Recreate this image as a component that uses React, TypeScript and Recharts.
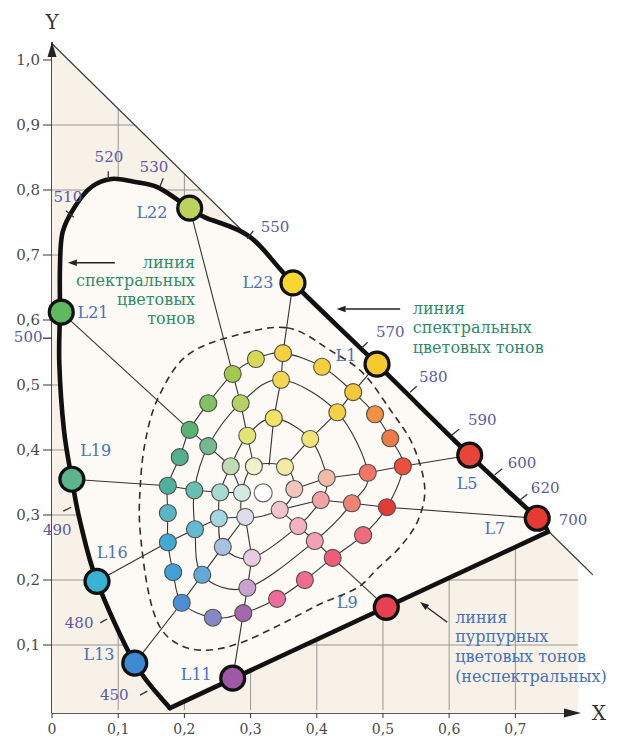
import React from 'react';
import { ComposedChart, Scatter, XAxis, YAxis, ReferenceLine, ReferenceDot } from 'recharts';

// ---------- axes ----------
const X_MAX = 0.7946;
const Y_MIN = -0.0046;
const Y_MAX = 1.0277;
const xTicks = [0, 0.1, 0.2, 0.3, 0.4, 0.5, 0.6, 0.7];
const yTicks = [0.1, 0.2, 0.3, 0.4, 0.5, 0.6, 0.7, 0.8, 0.9, 1.0];

// ---------- background ----------
const triangleRegion = [
  { x: 0, y: Y_MIN }, { x: 0, y: 1.025 }, { x: X_MAX, y: 0.2304 }, { x: X_MAX, y: Y_MIN },
];
const gridSegments = [
  { x: 0.1, y: 0 }, { x: 0.1, y: 0.925 },
  { x: 0.2, y: 0 }, { x: 0.2, y: 0.825 },
  { x: 0.3, y: 0 }, { x: 0.3, y: 0.725 },
  { x: 0.4, y: 0 }, { x: 0.4, y: 0.625 },
  { x: 0.5, y: 0 }, { x: 0.5, y: 0.525 },
  { x: 0.6, y: 0 }, { x: 0.6, y: 0.425 },
  { x: 0.7, y: 0 }, { x: 0.7, y: 0.325 },
  { x: 0, y: 0.1 }, { x: X_MAX, y: 0.1 },
  { x: 0, y: 0.2 }, { x: X_MAX, y: 0.2 },
  { x: 0, y: 0.3 }, { x: 0.725, y: 0.3 },
  { x: 0, y: 0.4 }, { x: 0.625, y: 0.4 },
  { x: 0, y: 0.5 }, { x: 0.525, y: 0.5 },
  { x: 0, y: 0.6 }, { x: 0.425, y: 0.6 },
  { x: 0, y: 0.7 }, { x: 0.325, y: 0.7 },
  { x: 0, y: 0.8 }, { x: 0.225, y: 0.8 },
  { x: 0, y: 0.9 }, { x: 0.125, y: 0.9 },
];
const diagonalInside = [{ x: 0, y: 1.025 }, { x: X_MAX, y: 0.2304 }];

// ---------- spectral locus & purple line ----------
const spectralLocus = [
  { x: 0.178, y: 0.003 }, { x: 0.125, y: 0.072 }, { x: 0.068, y: 0.198 }, { x: 0.042, y: 0.292 },
  { x: 0.030, y: 0.355 }, { x: 0.018, y: 0.431 }, { x: 0.011, y: 0.534 }, { x: 0.012, y: 0.612 },
  { x: 0.012, y: 0.680 }, { x: 0.016, y: 0.735 }, { x: 0.035, y: 0.775 }, { x: 0.060, y: 0.805 },
  { x: 0.090, y: 0.817 }, { x: 0.122, y: 0.813 }, { x: 0.160, y: 0.804 }, { x: 0.208, y: 0.772 },
  { x: 0.231, y: 0.758 }, { x: 0.299, y: 0.728 }, { x: 0.364, y: 0.657 }, { x: 0.491, y: 0.532 },
  { x: 0.631, y: 0.392 }, { x: 0.733, y: 0.295 }, { x: 0.749, y: 0.274 },
];
const purpleLine = [{ x: 0.178, y: 0.003 }, { x: 0.749, y: 0.274 }];

const wavelengthTicks = [
  { x: 0.085, y: 0.815 }, { x: 0.085, y: 0.829 },
  { x: 0.163, y: 0.805 }, { x: 0.168, y: 0.818 },
  { x: 0.021, y: 0.768 }, { x: 0.033, y: 0.758 },
  { x: 0.295, y: 0.725 }, { x: 0.304, y: 0.737 },
  { x: 0.468, y: 0.557 }, { x: 0.477, y: 0.566 },
  { x: 0.541, y: 0.489 }, { x: 0.551, y: 0.498 },
  { x: 0.604, y: 0.423 }, { x: 0.615, y: 0.432 },
  { x: 0.669, y: 0.362 }, { x: 0.680, y: 0.371 },
  { x: 0.707, y: 0.323 }, { x: 0.718, y: 0.332 },
  { x: 0.017, y: 0.306 }, { x: 0.029, y: 0.312 },
  { x: 0.073, y: 0.134 }, { x: 0.083, y: 0.140 },
  { x: 0.133, y: 0.023 }, { x: 0.144, y: 0.029 },
];

// ---------- dashed contour ----------
const dashedContour = [
  { x: 0.355, y: 0.588 }, { x: 0.424, y: 0.551 }, { x: 0.470, y: 0.518 }, { x: 0.511, y: 0.462 },
  { x: 0.545, y: 0.408 }, { x: 0.563, y: 0.343 }, { x: 0.553, y: 0.292 }, { x: 0.526, y: 0.251 },
  { x: 0.492, y: 0.218 }, { x: 0.461, y: 0.188 }, { x: 0.405, y: 0.163 }, { x: 0.344, y: 0.131 },
  { x: 0.284, y: 0.103 }, { x: 0.234, y: 0.092 }, { x: 0.193, y: 0.100 }, { x: 0.163, y: 0.128 },
  { x: 0.145, y: 0.185 }, { x: 0.133, y: 0.277 }, { x: 0.133, y: 0.338 }, { x: 0.140, y: 0.408 },
  { x: 0.159, y: 0.477 }, { x: 0.201, y: 0.543 }, { x: 0.269, y: 0.574 },
];

// ---------- colour samples (rings) ----------
const ringA = [
  { x: 0.349, y: 0.549, c: '#f4d03f' }, { x: 0.408, y: 0.528, c: '#f4cf3c' }, { x: 0.455, y: 0.489, c: '#f3c83a' },
  { x: 0.488, y: 0.455, c: '#f29142' }, { x: 0.511, y: 0.418, c: '#f07a45' }, { x: 0.530, y: 0.375, c: '#ee4c3c' },
  { x: 0.506, y: 0.312, c: '#e53a3a' }, { x: 0.470, y: 0.269, c: '#ef6b7b' }, { x: 0.424, y: 0.234, c: '#ef5b78' },
  { x: 0.382, y: 0.200, c: '#ef6a8c' }, { x: 0.340, y: 0.171, c: '#ec6c9c' }, { x: 0.289, y: 0.149, c: '#a667ad' },
  { x: 0.243, y: 0.142, c: '#8587c9' }, { x: 0.196, y: 0.165, c: '#4b8fd6' }, { x: 0.183, y: 0.212, c: '#41a0d8' },
  { x: 0.175, y: 0.258, c: '#41aad2' }, { x: 0.175, y: 0.303, c: '#5ab6c4' }, { x: 0.175, y: 0.345, c: '#4fb19c' },
  { x: 0.193, y: 0.389, c: '#52b08e' }, { x: 0.208, y: 0.431, c: '#5bb273' }, { x: 0.236, y: 0.472, c: '#82c164' },
  { x: 0.273, y: 0.517, c: '#a3c84e' }, { x: 0.308, y: 0.540, c: '#d8d857' },
];
const ringB = [
  { x: 0.346, y: 0.508, c: '#f2d852' }, { x: 0.431, y: 0.458, c: '#f2d146' }, { x: 0.477, y: 0.365, c: '#f07565' },
  { x: 0.453, y: 0.318, c: '#f08474' }, { x: 0.397, y: 0.260, c: '#f1a0b6' }, { x: 0.295, y: 0.188, c: '#c9a2d2' },
  { x: 0.227, y: 0.208, c: '#62a8d9' }, { x: 0.216, y: 0.278, c: '#62bbd2' }, { x: 0.215, y: 0.338, c: '#66c0b2' },
  { x: 0.236, y: 0.406, c: '#73ba93' }, { x: 0.285, y: 0.472, c: '#b4d263' },
];
const ringC = [
  { x: 0.335, y: 0.449, c: '#f2e265' }, { x: 0.390, y: 0.417, c: '#f2e376' }, { x: 0.415, y: 0.357, c: '#f2bba6' },
  { x: 0.406, y: 0.323, c: '#f2a4a4' }, { x: 0.372, y: 0.283, c: '#f2b2c2' }, { x: 0.302, y: 0.234, c: '#e8cbe2' },
  { x: 0.258, y: 0.251, c: '#a6c2e3' }, { x: 0.252, y: 0.295, c: '#a3d8e2' }, { x: 0.254, y: 0.335, c: '#a4dad2' },
  { x: 0.270, y: 0.375, c: '#bddbb4' }, { x: 0.295, y: 0.422, c: '#e2e576' },
];
const ringD = [
  { x: 0.352, y: 0.374, c: '#f2eaa4' }, { x: 0.366, y: 0.340, c: '#f3c6bc' }, { x: 0.344, y: 0.308, c: '#f2c4cc' },
  { x: 0.292, y: 0.297, c: '#dcdcea' }, { x: 0.287, y: 0.334, c: '#d3eae2' }, { x: 0.305, y: 0.375, c: '#f1f1cb' },
];
const whitePoint = [{ x: 0.319, y: 0.334, c: '#ffffff' }];

// ---------- L points on the boundary ----------
const lCircles = [
  { name: 'L22', x: 0.208, y: 0.772, c: '#bdd25c' },
  { name: 'L23', x: 0.364, y: 0.657, c: '#f6d631' },
  { name: 'L1', x: 0.491, y: 0.532, c: '#f6c92c' },
  { name: 'L5', x: 0.631, y: 0.392, c: '#e8453a' },
  { name: 'L7', x: 0.733, y: 0.295, c: '#e63b30' },
  { name: 'L9', x: 0.505, y: 0.158, c: '#e5414f' },
  { name: 'L11', x: 0.273, y: 0.049, c: '#9e58a6' },
  { name: 'L13', x: 0.125, y: 0.072, c: '#3c8ad2' },
  { name: 'L16', x: 0.068, y: 0.198, c: '#39b3d3' },
  { name: 'L19', x: 0.030, y: 0.355, c: '#5bb48c' },
  { name: 'L21', x: 0.014, y: 0.612, c: '#5fba5f' },
];

const spokeSpec = [
  { l: 'L21', a: 19, b: 9, c: 9, d: 4 },
  { l: 'L22', a: 21, b: 10, c: 10, d: 5 },
  { l: 'L23', a: 0, b: 0, c: 0, end: { x: 0.328, y: 0.377 } },
  { l: 'L1', a: 2, b: 1, c: 1, d: 0 },
  { l: 'L5', a: 5, b: 2, c: 2, d: 1 },
  { l: 'L7', a: 6, b: 3, c: 3, d: 2 },
  { l: 'L9', a: 8, b: 4, c: 4, d: 2 },
  { l: 'L11', a: 11, b: 5, c: 5, d: 3 },
  { l: 'L13', a: 13, b: 6, c: 6, d: 3 },
  { l: 'L16', a: 15, b: 7, c: 7, d: 3 },
  { l: 'L19', a: 17, b: 8, c: 8, d: 4 },
];

// ---------- texts ----------
const wavelengthLabels = [
  { x: 0.086, y: 0.851, t: '520' }, { x: 0.154, y: 0.835, t: '530' }, { x: 0.024, y: 0.789, t: '510' },
  { x: 0.337, y: 0.743, t: '550' }, { x: 0.511, y: 0.582, t: '570' }, { x: 0.576, y: 0.512, t: '580' },
  { x: 0.650, y: 0.446, t: '590' }, { x: 0.710, y: 0.380, t: '600' }, { x: 0.745, y: 0.342, t: '620' },
  { x: 0.787, y: 0.292, t: '700' }, { x: 0.008, y: 0.277, t: '490' }, { x: 0.041, y: 0.134, t: '480' },
  { x: 0.094, y: 0.023, t: '450' },
];
const lLabels = [
  { x: 0.151, y: 0.765, t: 'L22' }, { x: 0.311, y: 0.657, t: 'L23' }, { x: 0.062, y: 0.611, t: 'L21' },
  { x: 0.444, y: 0.546, t: 'L1' }, { x: 0.627, y: 0.349, t: 'L5' }, { x: 0.669, y: 0.280, t: 'L7' },
  { x: 0.446, y: 0.165, t: 'L9' }, { x: 0.218, y: 0.054, t: 'L11' }, { x: 0.071, y: 0.085, t: 'L13' },
  { x: 0.091, y: 0.243, t: 'L16' }, { x: 0.066, y: 0.400, t: 'L19' },
];
const noteLeft = [
  { x: 0.216, y: 0.689, t: 'линия' }, { x: 0.216, y: 0.661, t: 'спектральных' },
  { x: 0.216, y: 0.632, t: 'цветовых' }, { x: 0.216, y: 0.603, t: 'тонов' },
];
const noteRight = [
  { x: 0.545, y: 0.618, t: 'линия' }, { x: 0.545, y: 0.588, t: 'спектральных' },
  { x: 0.545, y: 0.557, t: 'цветовых тонов' },
];
const notePurple = [
  { x: 0.609, y: 0.143, t: 'линия' }, { x: 0.609, y: 0.113, t: 'пурпурных' },
  { x: 0.609, y: 0.082, t: 'цветовых тонов' }, { x: 0.609, y: 0.051, t: '(неспектральных)' },
];
const arrowLeft = [{ x: 0.095, y: 0.688 }, { x: 0.024, y: 0.688 }];
const arrowRight = [{ x: 0.526, y: 0.617 }, { x: 0.430, y: 0.617 }];
const arrowPurple = [{ x: 0.597, y: 0.135 }, { x: 0.556, y: 0.166 }];
const yArrowTip = [{ x: 0, y: Y_MAX }];
const xArrowTip = [{ x: X_MAX, y: Y_MIN }];

// ---------- drawing helpers ----------
type P = { x: number; y: number };
const FONT = "'DejaVu Serif', 'Liberation Serif', serif";

function catmullRom(pts: P[], closed: boolean): string {
  const n = pts.length;
  if (n < 2) return '';
  const g = (i: number) => (closed ? pts[((i % n) + n) % n] : pts[Math.max(0, Math.min(n - 1, i))]);
  let d = `M${pts[0].x},${pts[0].y}`;
  const segs = closed ? n : n - 1;
  for (let i = 0; i < segs; i++) {
    const p0 = g(i - 1), p1 = g(i), p2 = g(i + 1), p3 = g(i + 2);
    const c1x = p1.x + (p2.x - p0.x) / 6, c1y = p1.y + (p2.y - p0.y) / 6;
    const c2x = p2.x - (p3.x - p1.x) / 6, c2y = p2.y - (p3.y - p1.y) / 6;
    d += ` C${c1x},${c1y} ${c2x},${c2y} ${p2.x},${p2.y}`;
  }
  if (closed) d += ' Z';
  return d;
}

const spline = (o: any) => (props: any) => {
  const pts = (props.points || []) as P[];
  return (
    <path d={catmullRom(pts, !!o.closed) + (o.closeStraight ? ' Z' : '')} fill={o.fill || 'none'}
      stroke={o.stroke || 'none'} strokeWidth={o.width || 1} strokeDasharray={o.dash}
      strokeLinejoin="round" strokeLinecap={o.cap || 'round'} />
  );
};
const polygon = (o: any) => (props: any) => {
  const pts = (props.points || []) as P[];
  const d = pts.map((p, i) => `${i ? 'L' : 'M'}${p.x},${p.y}`).join(' ') + (o.close ? ' Z' : '');
  return <path d={d} fill={o.fill || 'none'} stroke={o.stroke || 'none'} strokeWidth={o.width || 1} strokeLinecap="round" strokeLinejoin="round" />;
};
const segments = (o: any) => (props: any) => {
  const pts = (props.points || []) as P[];
  let d = '';
  for (let i = 0; i + 1 < pts.length; i += 2) d += `M${pts[i].x},${pts[i].y} L${pts[i + 1].x},${pts[i + 1].y} `;
  return <path d={d} fill="none" stroke={o.stroke} strokeWidth={o.width} />;
};
const arrow = (o: any) => (props: any) => {
  const pts = (props.points || []) as P[];
  if (pts.length < 2) return <g />;
  const a = pts[0], b = pts[1];
  const ang = Math.atan2(b.y - a.y, b.x - a.x);
  const L = 9, Wd = 3.2;
  const bx = b.x - L * Math.cos(ang), by = b.y - L * Math.sin(ang);
  const px = -Math.sin(ang) * Wd, py = Math.cos(ang) * Wd;
  return (
    <g>
      <line x1={a.x} y1={a.y} x2={bx} y2={by} stroke={o.stroke} strokeWidth={o.width} />
      <polygon points={`${b.x},${b.y} ${bx + px},${by + py} ${bx - px},${by - py}`} fill={o.stroke} />
    </g>
  );
};
const noShape = () => <g />;
const circleShape = (r: number, stroke: string, sw: number) => (props: any) => {
  const { cx, cy, payload } = props;
  if (!Number.isFinite(cx) || !Number.isFinite(cy)) return <g />;
  return <circle cx={cx} cy={cy} r={r} fill={payload.c} stroke={stroke} strokeWidth={sw} />;
};
const textShape = (color: string, size: number, anchor: string) => (props: any) => {
  const { cx, cy, payload } = props;
  if (!Number.isFinite(cx) || !Number.isFinite(cy)) return <g />;
  return (
    <text x={cx} y={cy} textAnchor={anchor} dominantBaseline="central" fill={color} fontSize={size} fontFamily={FONT}>
      {payload.t}
    </text>
  );
};
const upHead = (props: any) => {
  const { cx, cy } = props;
  return <polygon points={`${cx},${cy} ${cx - 4.5},${cy + 15} ${cx + 4.5},${cy + 15}`} fill="#222" />;
};
const rightHead = (props: any) => {
  const { cx, cy } = props;
  return <polygon points={`${cx + 3},${cy} ${cx - 14},${cy - 4.5} ${cx - 14},${cy + 4.5}`} fill="#222" />;
};

const fmt = (v: number) => (v === 0 ? '0' : v.toFixed(1).replace('.', ','));

const LINE = '#333333';

export default function App() {
  const lookup = (name: string) => lCircles.find((l) => l.name === name) as P;
  const spokes = spokeSpec.map((s: any) => {
    const pts: P[] = [lookup(s.l), ringA[s.a], ringB[s.b], ringC[s.c]];
    pts.push(s.end ? s.end : ringD[s.d]);
    return pts.map((p) => ({ x: p.x, y: p.y }));
  });
  const rings = [ringA, ringB, ringC, ringD];

  return (
    <div style={{ position: 'absolute', left: 0, top: 0, width: 619, height: 742, background: '#ffffff' }}>
      <ComposedChart width={619} height={742} margin={{ top: 42, right: 41, bottom: 0, left: 0 }}>
        <XAxis type="number" dataKey="x" domain={[0, X_MAX]} ticks={xTicks} tickFormatter={fmt} height={29}
          tickSize={5} tickMargin={6} axisLine={{ stroke: '#222', strokeWidth: 1.6 }} tickLine={{ stroke: '#333' }}
          tick={{ fill: '#4a4a4a', fontSize: 14, fontFamily: FONT }} interval={0} />
        <YAxis type="number" dataKey="y" domain={[Y_MIN, Y_MAX]} ticks={yTicks} tickFormatter={fmt} width={52}
          tickSize={9} tickMargin={3} axisLine={{ stroke: '#222', strokeWidth: 1.6 }} tickLine={{ stroke: '#333' }}
          tick={{ fill: '#4a4a4a', fontSize: 15, fontFamily: FONT }} interval={0} />

        <Scatter data={triangleRegion} shape={noShape} line={polygon({ fill: '#f7f1e8', close: true })} isAnimationActive={false} />
        <Scatter data={gridSegments} shape={noShape} line={segments({ stroke: '#9a968f', width: 1 })} isAnimationActive={false} />
        <Scatter data={spectralLocus} shape={noShape} line={spline({ fill: '#fdfaf5', closeStraight: true })} isAnimationActive={false} />
        <Scatter data={diagonalInside} shape={noShape} line={polygon({ stroke: '#3a3a3a', width: 1.2 })} isAnimationActive={false} />
        <Scatter data={dashedContour} shape={noShape} line={spline({ closed: true, stroke: '#2e2e2e', width: 1.6, dash: '7 5', cap: 'butt' })} isAnimationActive={false} />

        {rings.map((r, i) => (
          <Scatter key={`ring${i}`} data={r} shape={noShape} line={spline({ closed: true, stroke: LINE, width: 1.1 })} isAnimationActive={false} />
        ))}
        {spokes.map((s, i) => (
          <Scatter key={`spoke${i}`} data={s} shape={noShape} line={polygon({ stroke: LINE, width: 1.1 })} isAnimationActive={false} />
        ))}
        {rings.map((r, i) => (
          <Scatter key={`dots${i}`} data={r} shape={circleShape(8.5, '#4f4f47', 1.1)} isAnimationActive={false} />
        ))}
        <Scatter data={whitePoint} shape={circleShape(9, '#6b6b6b', 1.2)} isAnimationActive={false} />

        <Scatter data={spectralLocus} shape={noShape} line={spline({ stroke: '#111111', width: 4.6 })} isAnimationActive={false} />
        <Scatter data={purpleLine} shape={noShape} line={polygon({ stroke: '#111111', width: 4.6 })} isAnimationActive={false} />
        <Scatter data={wavelengthTicks} shape={noShape} line={segments({ stroke: '#333', width: 1.3 })} isAnimationActive={false} />
        <Scatter data={lCircles} shape={circleShape(12, '#111111', 3.2)} isAnimationActive={false} />

        <Scatter data={yArrowTip} shape={upHead} isAnimationActive={false} />
        <Scatter data={xArrowTip} shape={rightHead} isAnimationActive={false} />
        <Scatter data={arrowLeft} shape={noShape} line={arrow({ stroke: '#222', width: 1.6 })} isAnimationActive={false} />
        <Scatter data={arrowRight} shape={noShape} line={arrow({ stroke: '#222', width: 1.6 })} isAnimationActive={false} />
        <Scatter data={arrowPurple} shape={noShape} line={arrow({ stroke: '#222', width: 1.3 })} isAnimationActive={false} />

        <Scatter data={wavelengthLabels} shape={textShape('#5a5aa8', 15, 'middle')} isAnimationActive={false} />
        <Scatter data={lLabels} shape={textShape('#4672b8', 16, 'middle')} isAnimationActive={false} />
        <Scatter data={noteLeft} shape={textShape('#2f8b6c', 16, 'end')} isAnimationActive={false} />
        <Scatter data={noteRight} shape={textShape('#2f8b6c', 16, 'start')} isAnimationActive={false} />
        <Scatter data={notePurple} shape={textShape('#4672b8', 16, 'start')} isAnimationActive={false} />

        <ReferenceLine segment={[{ x: X_MAX, y: 0.2304 }, { x: 0.817, y: 0.208 }]} ifOverflow="visible" stroke="#3a3a3a" strokeWidth={1.2} />
        <ReferenceLine segment={[{ x: -0.0136, y: 0.572 }, { x: 0.008, y: 0.572 }]} ifOverflow="visible" stroke="#333" strokeWidth={1.3} />
        <ReferenceDot x={-0.036} y={0.574} r={0} ifOverflow="visible" fill="none" stroke="none"
          label={{ value: '500', position: 'center', fill: '#5a5aa8', fontSize: 15, fontFamily: FONT }} />
        <ReferenceDot x={0.826} y={-0.004} r={0} ifOverflow="visible" fill="none" stroke="none"
          label={{ value: 'X', position: 'center', fill: '#333', fontSize: 20, fontFamily: FONT }} />
        <ReferenceDot x={0} y={1.058} r={0} ifOverflow="visible" fill="none" stroke="none"
          label={{ value: 'Y', position: 'center', fill: '#333', fontSize: 20, fontFamily: FONT }} />
      </ComposedChart>
    </div>
  );
}
